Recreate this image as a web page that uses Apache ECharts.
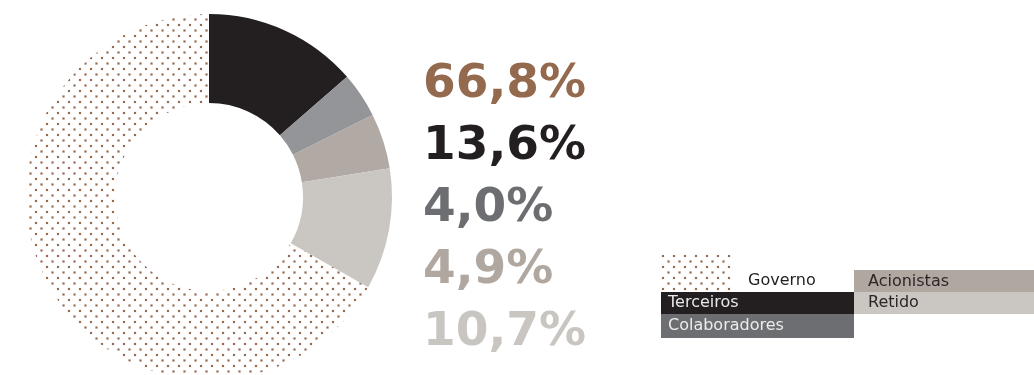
<!DOCTYPE html>
<html>
<head>
<meta charset="utf-8">
<style>
  html, body { margin: 0; padding: 0; background: #ffffff; }
  #chart { width: 1034px; height: 375px; }
</style>
<script src="https://cdn.jsdelivr.net/npm/echarts@6/dist/echarts.min.js"></script>
</head>
<body>
<div id="chart"></div>
<script>
// Distribuição do valor adicionado (%)
const categories = ['Terceiros', 'Colaboradores', 'Acionistas', 'Retido', 'Governo'];
const values = [13.6, 4.0, 4.9, 10.7, 66.8];
// Order in which the big percentages are listed
const labelOrder = ['Governo', 'Terceiros', 'Colaboradores', 'Acionistas', 'Retido'];

const sliceColors = {
  Terceiros: '#231f20',
  Colaboradores: '#939598',
  Acionistas: '#b1a9a3',
  Retido: '#cac7c2'
};
const textColors = {
  Governo: '#946a4f',
  Terceiros: '#231f20',
  Colaboradores: '#6d6e71',
  Acionistas: '#b0a8a0',
  Retido: '#c9c6c1'
};

// Dotted fill used for "Governo": staggered brown dots
function dotPattern() {
  const c = document.createElement('canvas');
  c.width = 11; c.height = 11;
  const ctx = c.getContext('2d');
  const dot = (x, y) => {
    ctx.fillStyle = 'rgba(170,135,110,0.18)';
    ctx.fillRect(x - 0.5, y - 0.5, 3, 3);
    ctx.fillStyle = '#946a50';
    ctx.fillRect(x, y, 2, 2);
  };
  dot(2, 2);
  dot(7.5, 7.5);
  return c;
}
const dots = { image: dotPattern(), repeat: 'repeat' };

const chart = echarts.init(document.getElementById('chart'), null, { renderer: 'canvas' });

const fmt = v => v.toFixed(1).replace('.', ',') + '%';

// Big percentage column
const pctTexts = labelOrder.map((name, i) => ({
  type: 'text',
  left: 423,
  top: 61 + i * 62,
  style: {
    text: fmt(values[categories.indexOf(name)]),
    fill: textColors[name],
    font: 'bold 47px "DejaVu Sans"'
  }
}));

// Legend blocks
const legendFont = '16px "DejaVu Sans"';
const legendItems = [
  { name: 'Governo', box: [661, 255, 71, 37], fill: dots, tx: 748, ty: 281, tc: '#231f20' },
  { name: 'Terceiros', box: [661, 292, 193, 22], fill: sliceColors.Terceiros, tx: 668, ty: 303, tc: '#e8e8e8' },
  { name: 'Colaboradores', box: [661, 314, 193, 24], fill: '#6d6e71', tx: 668, ty: 326, tc: '#ececec' },
  { name: 'Acionistas', box: [854, 270, 180, 22], fill: '#b0a8a0', tx: 868, ty: 282, tc: '#2b2727' },
  { name: 'Retido', box: [854, 292, 180, 22], fill: '#cac7c2', tx: 868, ty: 303, tc: '#2b2727' }
];
const legendGraphics = [];
legendItems.forEach(it => {
  legendGraphics.push({
    type: 'rect',
    shape: { x: it.box[0], y: it.box[1], width: it.box[2], height: it.box[3] },
    style: { fill: it.fill }
  });
  legendGraphics.push({
    type: 'text',
    x: it.tx, y: it.ty,
    style: { text: it.name, fill: it.tc, font: legendFont, verticalAlign: 'middle' }
  });
});

chart.setOption({
  animation: false,
  backgroundColor: '#ffffff',
  series: [{
    type: 'pie',
    center: [209, 197],
    radius: [94, 183],
    startAngle: 90,
    clockwise: true,
    label: { show: false },
    labelLine: { show: false },
    emphasis: { disabled: true },
    itemStyle: { borderWidth: 0 },
    data: categories.map((name, i) => ({
      name,
      value: values[i],
      itemStyle: { color: name === 'Governo' ? dots : sliceColors[name] }
    }))
  }],
  graphic: pctTexts.concat(legendGraphics)
});
</script>
</body>
</html>
